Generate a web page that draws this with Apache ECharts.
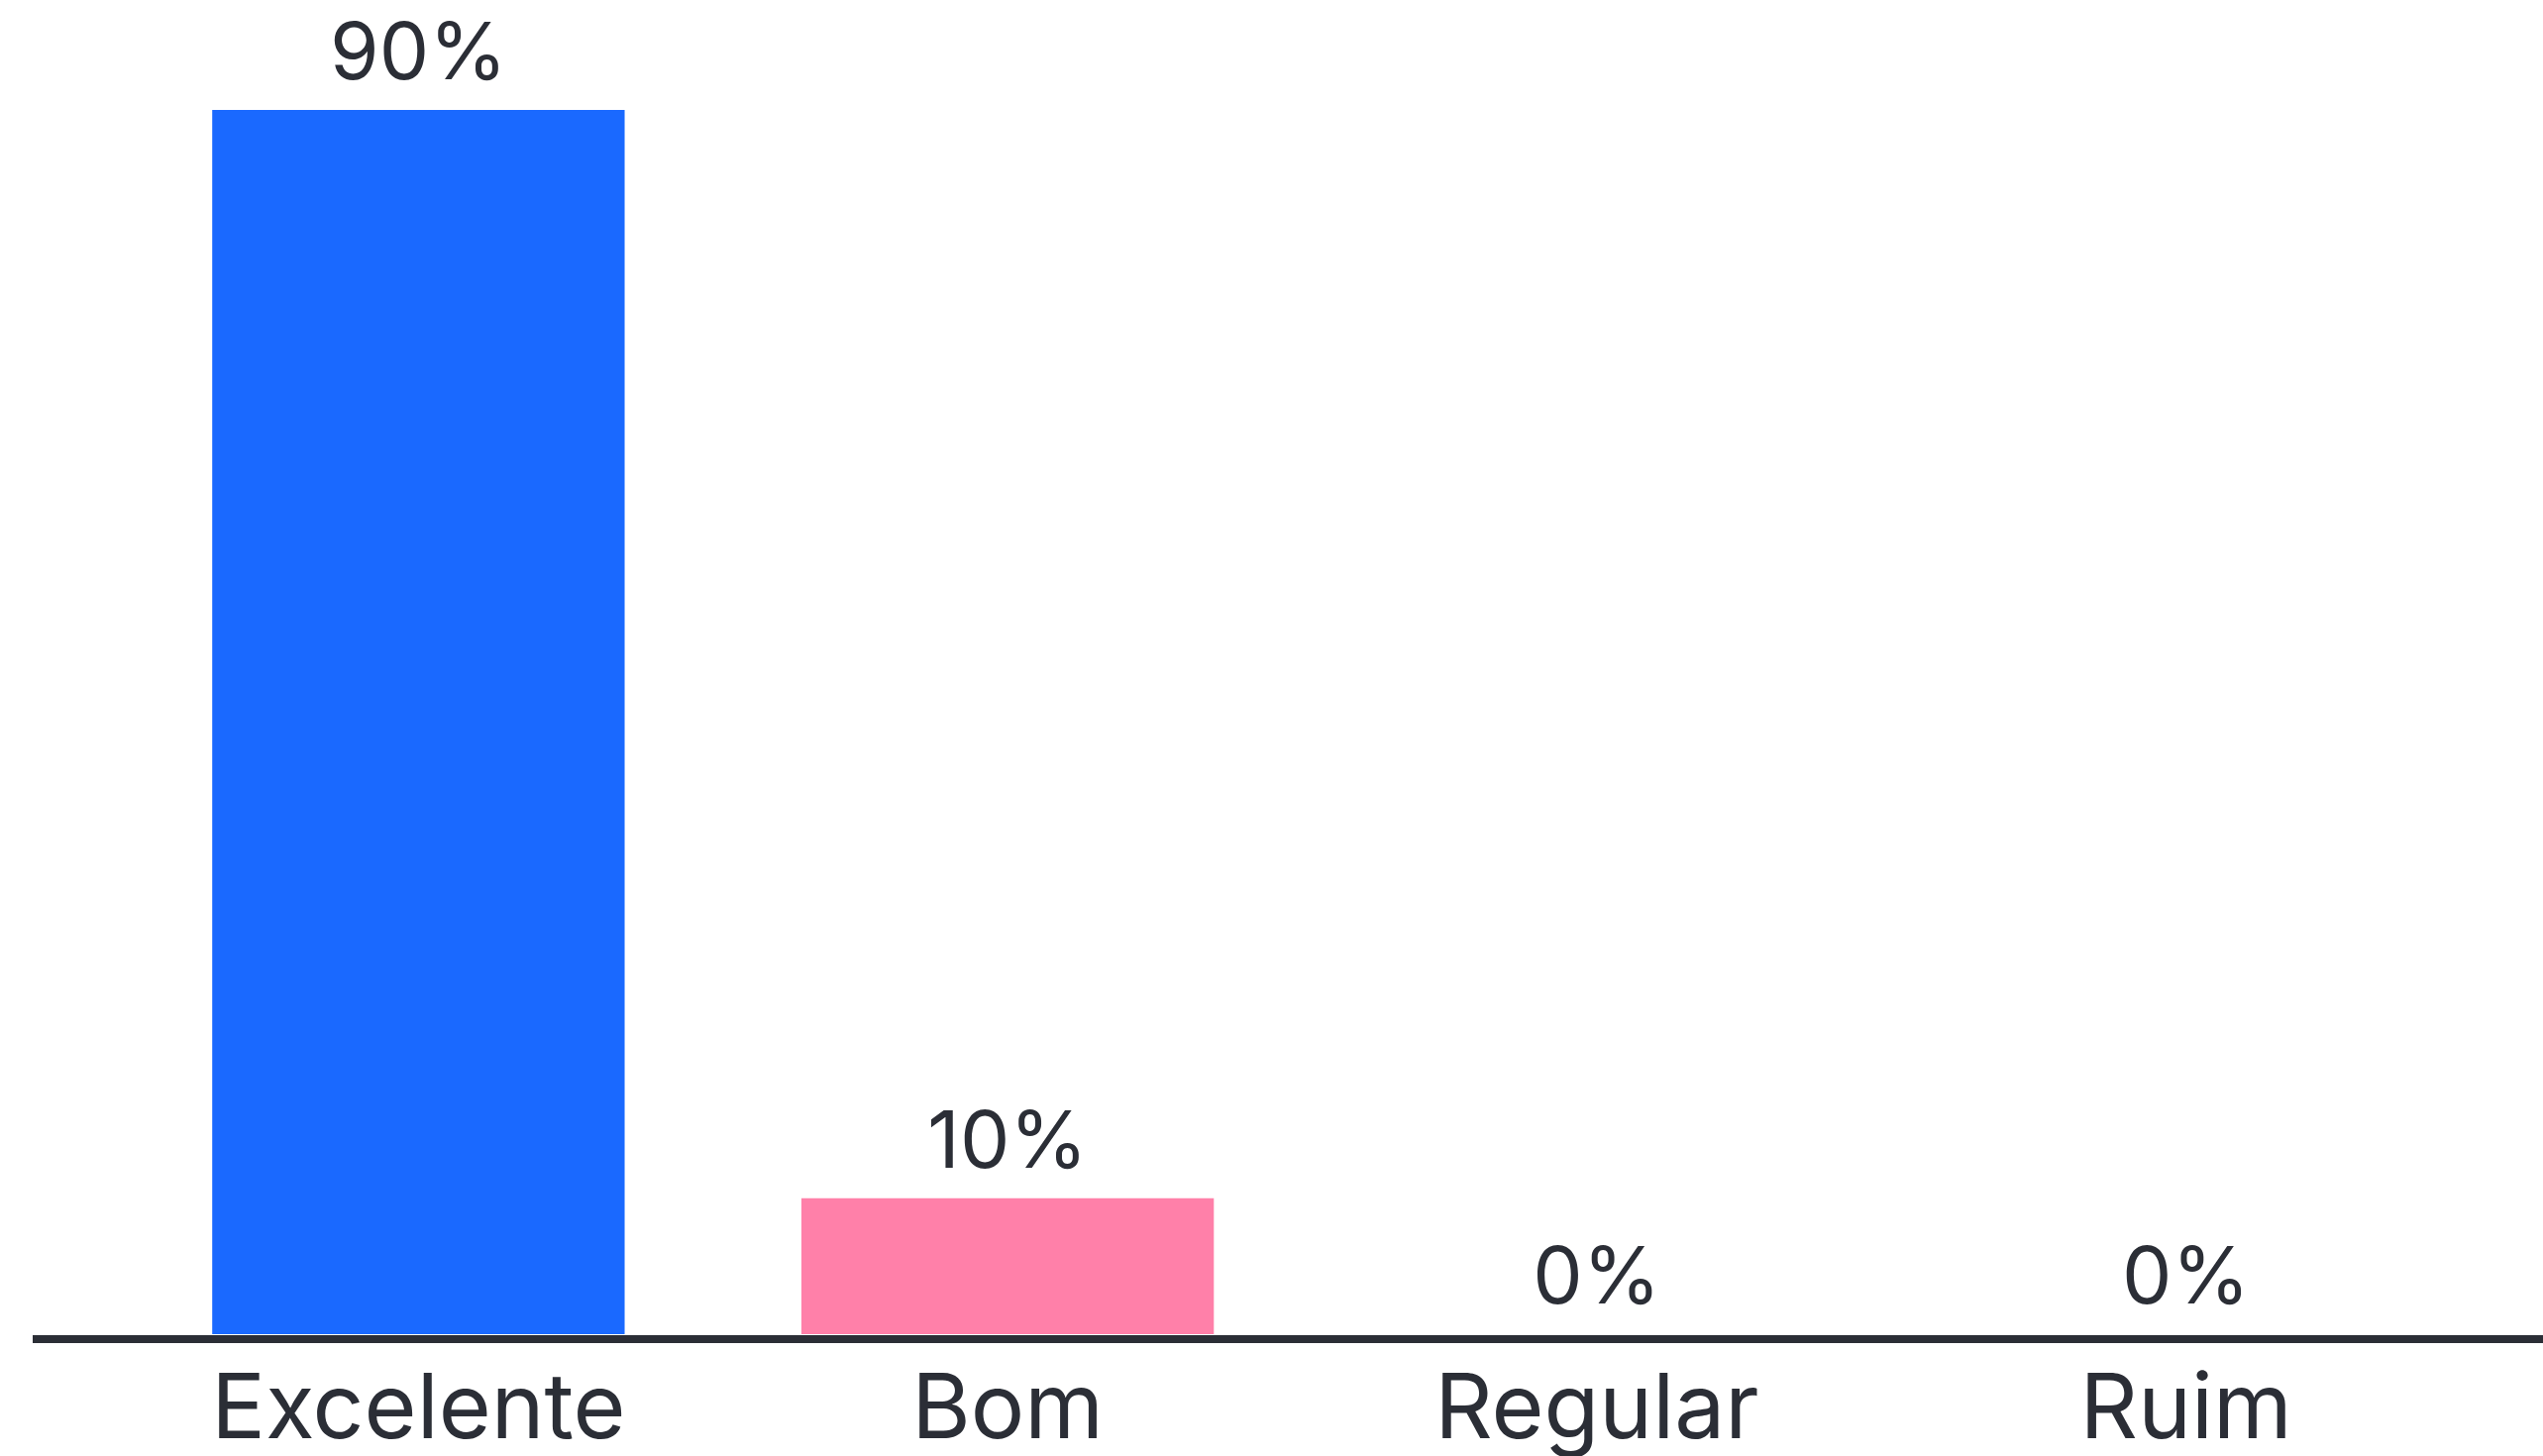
<!DOCTYPE html>
<html>
<head>
<meta charset="utf-8">
<script src="https://cdn.jsdelivr.net/npm/echarts@6/dist/echarts.min.js"></script>
<style>
html,body{margin:0;padding:0;background:#fff;}
#chart{width:2567px;height:1470px;}
</style>
</head>
<body>
<div id="chart"></div>
<script>
const categories = ['Excelente', 'Bom', 'Regular', 'Ruim'];
const values = [90, 10, 0, 0];
const barColors = ['#1a69ff', '#ff80a9', '#1a69ff', '#1a69ff'];

const textColor = '#2b2e36';
const chart = echarts.init(document.getElementById('chart'), null, {renderer: 'canvas'});
chart.setOption({
  backgroundColor: '#ffffff',
  animation: false,
  grid: [
    {left: 125, right: 63, top: 111, bottom: 123},
    {left: 33, right: 0, top: 200, bottom: 118.5}
  ],
  xAxis: [
    {
      type: 'category', gridIndex: 0, data: categories,
      axisLine: {show: false}, axisTick: {show: false},
      axisLabel: {color: textColor, fontFamily: 'Inter', fontSize: 91, lineHeight: 91, margin: 32}
    },
    {
      type: 'value', gridIndex: 1, min: 0, max: 1,
      axisLine: {show: true, lineStyle: {color: textColor, width: 8, cap: 'butt'}},
      axisTick: {show: false}, axisLabel: {show: false}, splitLine: {show: false}
    }
  ],
  yAxis: [
    {type: 'value', gridIndex: 0, min: 0, max: 'dataMax', show: false, splitLine: {show: false}},
    {type: 'value', gridIndex: 1, show: false, splitLine: {show: false}}
  ],
  series: [{
    type: 'bar',
    xAxisIndex: 0, yAxisIndex: 0,
    barWidth: '70%',
    data: values.map((v, i) => ({value: v, itemStyle: {color: barColors[i]}})),
    label: {
      show: true, position: 'top', distance: 15,
      color: textColor, fontFamily: 'Inter', fontSize: 80, lineHeight: 80,
      formatter: p => p.value + '%'
    }
  }]
});
</script>
</body>
</html>
